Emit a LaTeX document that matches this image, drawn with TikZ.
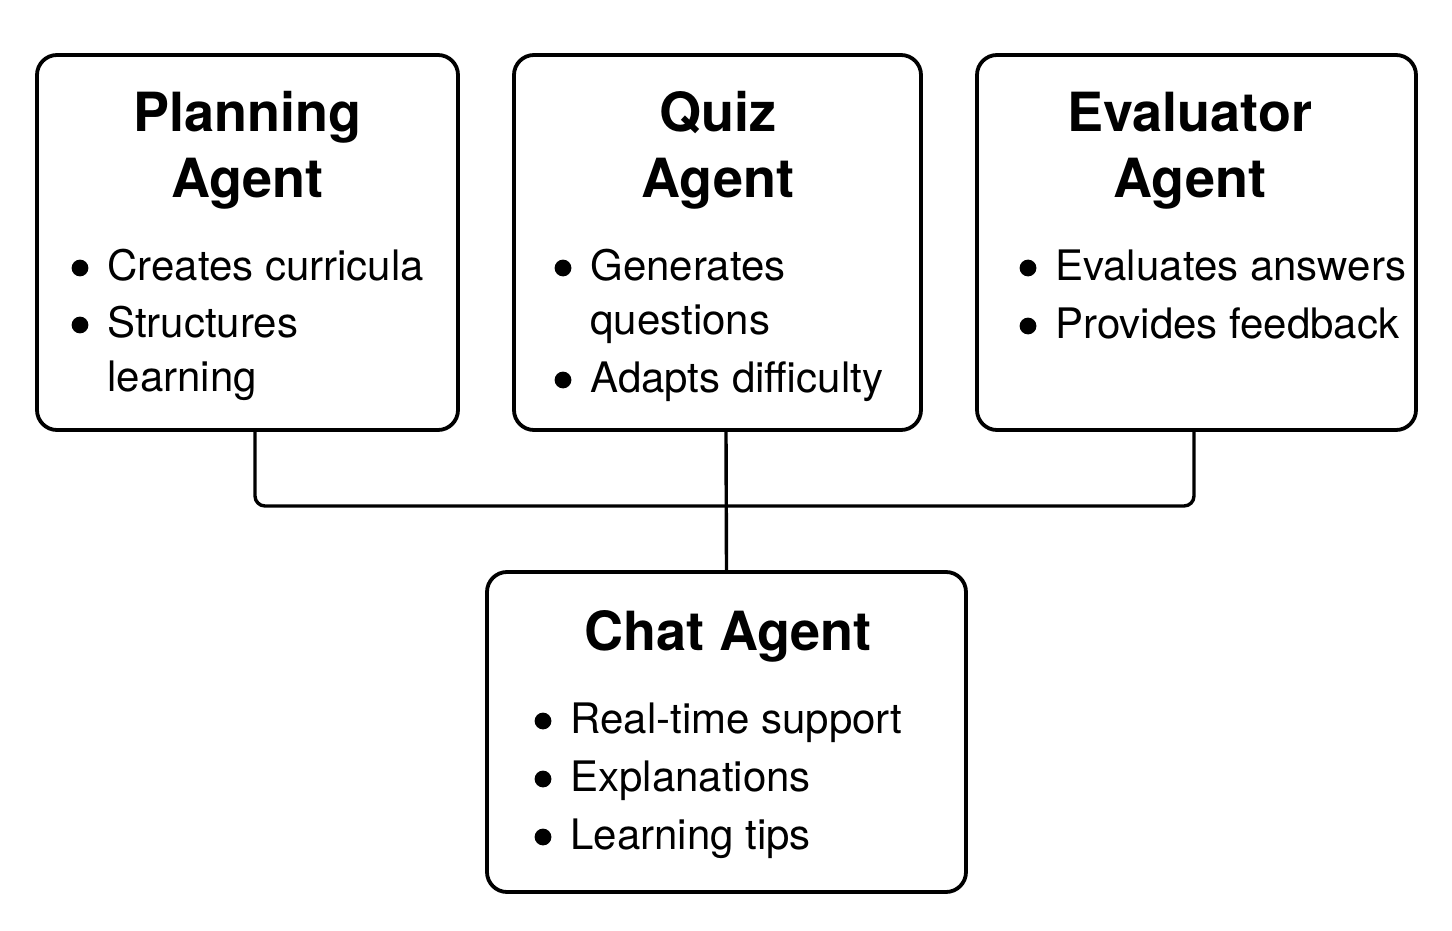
\documentclass[tikz,border=0pt]{standalone}
\usepackage{fontspec}
\setmainfont{TeX Gyre Heros}
\tikzset{
  agent/.style={draw, line width=1.9pt, rounded corners=10pt, inner sep=0pt},
  title/.style={font=\fontsize{27}{33}\selectfont\bfseries, align=center, anchor=base},
  item/.style={font=\fontsize{21}{27}\selectfont, align=left, anchor=base west, inner sep=0pt},
  link/.style={line width=1.7pt, rounded corners=5pt},
}

\begin{document}
\begin{tikzpicture}[x=0.5pt, y=-0.5pt]
\useasboundingbox (0,0) rectangle (1452,931);
%the agent boxes
\node[agent, minimum width=210.5pt, minimum height=187.5pt] (plan) at (247.5,242.5) {};
\node[agent, minimum width=203.5pt, minimum height=187.5pt] (quiz) at (717.5,242.5) {};
\node[agent, minimum width=219.5pt, minimum height=187.5pt] (eval) at (1196.5,242.5) {};
\node[agent, minimum width=239.5pt, minimum height=160pt] (chat) at (726.5,732) {};

%the titles (base = last line)
\node[title] (planT) at (247.5,198) {Planning\\Agent};
\node[title] (quizT) at (718,198) {Quiz\\Agent};
\node[title] (evalT) at (1190,198) {Evaluator\\Agent};
\node[title] (chatT) at (728,650) {Chat Agent};

%the tasks
\node[item] (plan1) at (107,280) {Creates curricula};
\node[item] (plan2) at (107,391) {Structures\\learning};
\node[item] (quiz1) at (590,334) {Generates\\questions};
\node[item] (quiz2) at (590,392) {Adapts difficulty};
\node[item] (eval1) at (1055,280) {Evaluates answers};
\node[item] (eval2) at (1055,338) {Provides feedback};
\node[item] (chat1) at (570,733) {Real-time support};
\node[item] (chat2) at (570,791) {Explanations};
\node[item] (chat3) at (570,849) {Learning tips};
\foreach \n/\y in {plan1/280,plan2/337,quiz1/280,quiz2/392,eval1/280,eval2/338,chat1/733,chat2/791,chat3/849}
  \fill (\n.west |- 0,\y) ++(-27,-12) circle (4.2pt);

%the links
\coordinate (hub) at (726,506);
\draw[link] ([xshift=3.75pt]plan.south) |- (hub) -| ([xshift=-1.25pt]eval.south);
\draw[link] ([xshift=4.25pt]quiz.south) -- (chat.north);
\end{tikzpicture}
\end{document}
